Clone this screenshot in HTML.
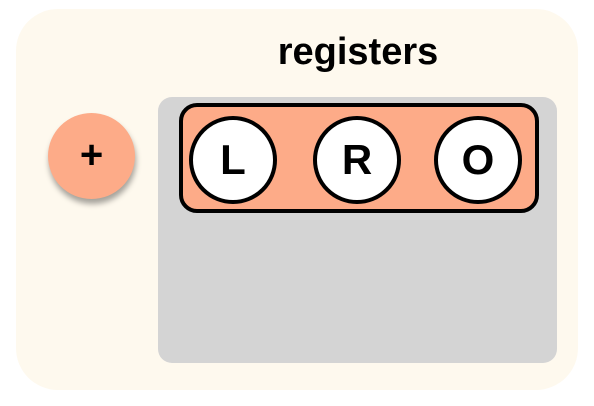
<!DOCTYPE html>
<html><head><meta charset="utf-8"><style>
html,body{margin:0;padding:0;width:594px;height:406px;background:#fff;overflow:hidden;font-family:"Liberation Sans",Arial,sans-serif;}
.abs{position:absolute;box-sizing:border-box;}
#card{left:16px;top:9px;width:562px;height:381px;background:#fef9ee;border-radius:42px;}
#title{left:158px;width:400px;top:30px;text-align:center;font-weight:bold;font-size:38px;line-height:44px;color:#000;}
#plus{left:48px;top:113px;width:87px;height:86px;border-radius:50%;background:#fdab88;box-shadow:1px 5px 6px rgba(0,0,0,0.35);font-weight:bold;font-size:40px;line-height:84px;text-align:center;color:#000;}
#panel{left:158px;top:97px;width:399px;height:266px;background:#d4d4d4;border-radius:14px;}
#group{left:179px;top:103px;width:360px;height:110px;background:#fdab88;border:4px solid #000;border-radius:18px;}
.reg{width:88px;height:88px;top:116px;border-radius:50%;background:#fff;border:4px solid #000;font-weight:bold;font-size:42px;line-height:80px;text-align:center;color:#000;}
</style></head><body>
<div class="abs" id="card"></div>
<div class="abs" id="title">registers</div>
<div class="abs" id="plus">+</div>
<div class="abs" id="panel"></div>
<div class="abs" id="group"></div>
<div class="abs reg" style="left:189px">L</div>
<div class="abs reg" style="left:313px">R</div>
<div class="abs reg" style="left:434px">O</div>
</body></html>
